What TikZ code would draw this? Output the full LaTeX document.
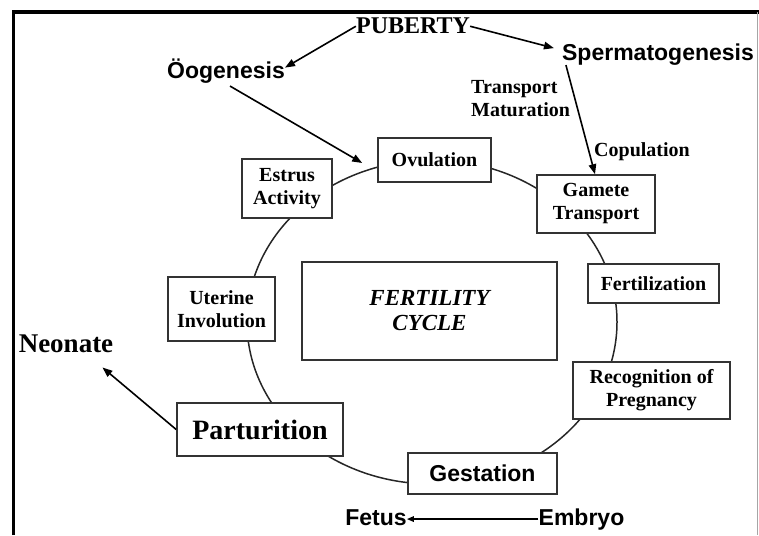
\documentclass[tikz,border=0pt]{standalone}
\usepackage{fontspec}
\setmainfont{Liberation Serif}
\newfontfamily\arialfont{Liberation Sans}
\usetikzlibrary{arrows.meta}
\begin{document}
\begin{tikzpicture}[x=1pt,y=-1pt,
  box/.style={draw=black!80, line width=1.6pt, fill=white, inner sep=0pt, align=center,
    font=\bfseries\fontsize{20}{23}\selectfont},
  lbl/.style={inner sep=0pt, anchor=base},
  timesbig/.style={lbl, font=\bfseries\fontsize{24}{28}\selectfont},
  arialbig/.style={lbl, font=\arialfont\bfseries\fontsize{23}{27}\selectfont},
  small/.style={inner sep=0pt, font=\bfseries\fontsize{20}{23}\selectfont},
  conn/.style={line width=1.6pt, -{Triangle[length=10pt,width=7.5pt]}},
  thinconn/.style={line width=1.5pt, -{Triangle[length=7pt,width=5.5pt]}},
  cycle/.style={line width=1.5pt, draw=black!85}
]
\useasboundingbox (0,0) rectangle (759,535);
% frame
\draw[line width=3.6pt, line join=miter] (13.5,535) -- (13.5,12) -- (759,12);
\draw[black!35, line width=1pt] (757.5,12) -- (757.5,535);

% cycle
\draw[cycle] (432,322) ellipse [x radius=185pt, y radius=162pt];

% boxes
\node[box, minimum width=113pt, minimum height=44pt] (ovul) at (434.5,160) {Ovulation};
\node[box, minimum width=118pt, minimum height=58pt] (gam) at (596,204) {Gamete\\Transport};
\node[box, minimum width=90pt, minimum height=59pt] (estr) at (287,188.5) {Estrus\\Activity};
\node[box, minimum width=131pt, minimum height=39pt] (fert) at (653.5,283.5) {Fertilization};
\node[box, minimum width=107pt, minimum height=64pt] (uter) at (221.5,309) {Uterine\\Involution};
\node[box, minimum width=255pt, minimum height=98pt,
  font=\mdseries\itshape\fontsize{23}{25}\selectfont] (cyc) at (429.5,311) {\textbf{\itshape FERTILITY}\\\textbf{\itshape CYCLE}};
\node[box, minimum width=157pt, minimum height=57pt] (recog) at (651.5,390.5) {Recognition of\\Pregnancy};
\node[box, minimum width=166pt, minimum height=53pt,
  font=\bfseries\fontsize{28}{32}\selectfont] (part) at (260,429.5) {Parturition};
\node[box, minimum width=149pt, minimum height=41pt,
  font=\arialfont\bfseries\fontsize{23}{27}\selectfont] (gest) at (482.5,473.5) {Gestation};

% free labels
\node[timesbig] (pub) at (413,34) {PUBERTY};
\node[arialbig] (oog) at (226,78) {Öogenesis};
\node[arialbig] (sperm) at (658,60) {Spermatogenesis};
\node[small, align=left, anchor=north west] (trans) at (471,80) {Transport\\Maturation};
\node[small, anchor=base] (cop) at (642,156) {Copulation};
\node[lbl, font=\bfseries\fontsize{27}{31}\selectfont] (neo) at (66,352) {Neonate};
\node[arialbig] (fet) at (376,525) {Fetus};
\node[arialbig] (emb) at (581.5,525) {Embryo};

% connectors
\draw[conn] (pub.west) -- ([yshift=3pt]oog.east);
\draw[conn] (pub.east) -- ([xshift=-8pt,yshift=6pt]sperm.west);
\draw[conn] ([xshift=4pt]sperm.south west) -- ([xshift=-1pt]gam.north);
\draw[conn] ([xshift=4pt,yshift=-3pt]oog.south) -- ([xshift=-15pt,yshift=-3pt]ovul.west);
\draw[conn] (part.west) -- ([xshift=-11pt,yshift=-15pt]neo.south east);
\draw[thinconn] (emb.west) -- (emb.west -| fet.east);
\end{tikzpicture}
\end{document}
